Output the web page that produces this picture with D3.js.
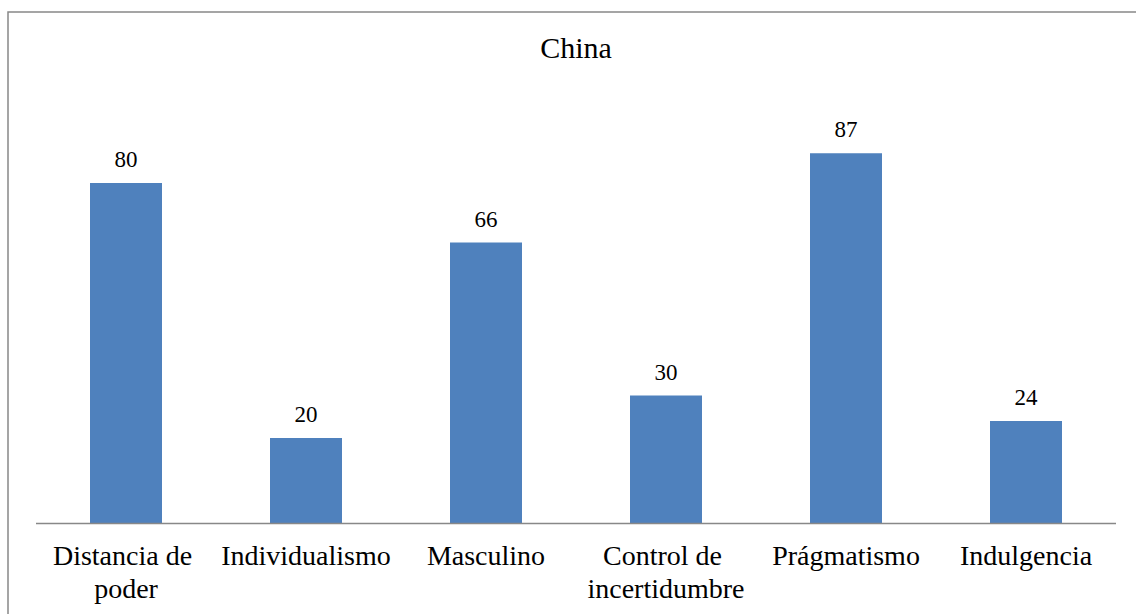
<!DOCTYPE html>
<html>
<head>
<meta charset="utf-8">
<script src="https://cdn.jsdelivr.net/npm/d3@7"></script>
</head>
<body style="margin:0">
<script>
// data
var categories = ["Distancia de poder", "Individualismo", "Masculino",
                  "Control de incertidumbre", "Prágmatismo", "Indulgencia"];
var values = [80, 20, 66, 30, 87, 24];
var chartTitle = "China";

// dimensions
var width = 1136, height = 614;
var margin = {top: 98, right: 20, bottom: 91, left: 36},
  plotWidth = width - margin.left - margin.right,
  plotHeight = height - margin.top - margin.bottom;

var svg = d3.select("body")
  .append("svg")
    .attr("width", width)
    .attr("height", height);

// outer frame (only top and left visible, the rest is cropped)
svg.append("path")
  .attr("d", "M8,620 L8,12 L1140,12")
  .attr("fill", "none")
  .attr("stroke", "#888")
  .attr("stroke-width", 1.5);

var g = svg.append("g")
  .attr("transform", "translate(" + margin.left + "," + margin.top + ")");

var x = d3.scaleBand()
  .domain(categories)
  .range([0, plotWidth])
  .paddingInner(0.6)
  .paddingOuter(0.3);

var y = d3.scaleLinear()
  .domain([0, 100])
  .range([plotHeight, 0]);

// bars
g.selectAll(".bar")
  .data(values)
  .enter()
  .append("rect")
    .attr("class", "bar")
    .attr("x", function(d, i) { return x(categories[i]); })
    .attr("y", function(d) { return y(d); })
    .attr("width", x.bandwidth())
    .attr("height", function(d) { return plotHeight - y(d); })
    .style("fill", "#4F81BD");

// value labels
g.selectAll(".val")
  .data(values)
  .enter()
  .append("text")
    .attr("class", "val")
    .attr("x", function(d, i) { return x(categories[i]) + x.bandwidth() / 2; })
    .attr("y", function(d) { return y(d) - 16; })
    .attr("text-anchor", "middle")
    .style("font-family", "'Liberation Serif'")
    .style("font-size", "23px")
    .text(function(d) { return d; });

// x axis
var xAxis = g.append("g")
  .attr("transform", "translate(0," + plotHeight + ")")
  .call(d3.axisBottom(x).tickSize(0).tickPadding(0));

xAxis.select(".domain")
  .attr("d", "M0,0.5H" + plotWidth)
  .attr("stroke", "#888")
  .attr("stroke-width", 1.5);

xAxis.selectAll(".tick text")
  .attr("y", 0)
  .attr("dy", 0)
  .attr("fill", "#000")
  .style("font-size", "28px")
  .style("font-family", "'Liberation Serif'")
  .call(wrap, x.step() - 4);

// break long labels in two lines, keeping the trailing space like Excel
function wrap(sel, maxWidth) {
  sel.each(function() {
    var text = d3.select(this),
      words = text.text().split(/\s+/),
      lines = [], line = [];
    text.text(null);
    var probe = text.append("tspan");
    words.forEach(function(w) {
      line.push(w);
      probe.text(line.join(" "));
      if (probe.node().getComputedTextLength() > maxWidth && line.length > 1) {
        line.pop();
        lines.push(line.join(" ") + " ");
        line = [w];
      }
    });
    lines.push(line.join(" "));
    probe.remove();
    lines.forEach(function(l, i) {
      text.append("tspan")
        .attr("x", 0)
        .attr("y", 42 + i * 33)
        .style("white-space", "pre")
        .text(l);
    });
  });
}

// title
svg.append("text")
  .attr("x", 576)
  .attr("y", 58)
  .attr("text-anchor", "middle")
  .style("font-family", "'Liberation Serif'")
  .style("font-size", "30px")
  .text(chartTitle);
</script>
</body>
</html>
